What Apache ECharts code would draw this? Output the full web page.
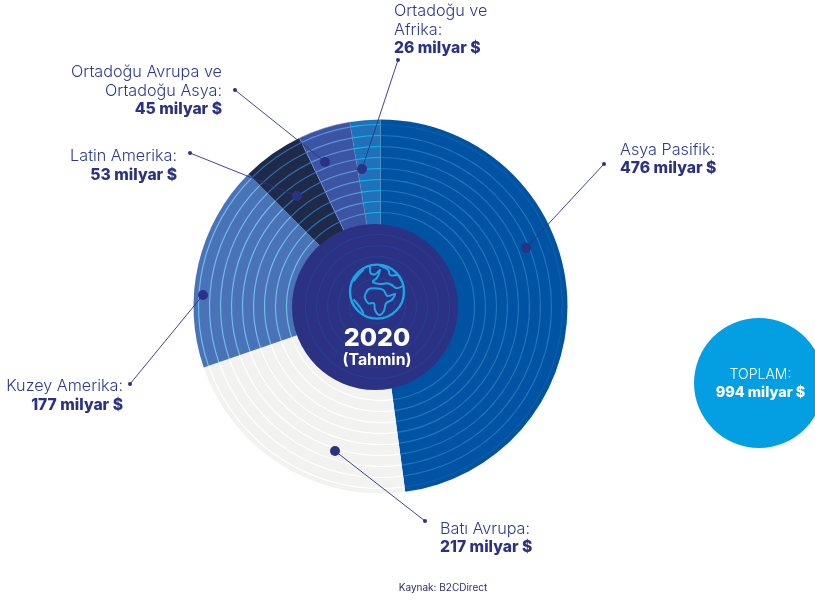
<!DOCTYPE html>
<html lang="tr">
<head>
<meta charset="utf-8">
<title>2020 bölgesel pazar büyüklüğü</title>
<style>html,body{margin:0;padding:0;background:#fff}#chart{width:815px;height:601px}</style>
<script src="https://cdn.jsdelivr.net/npm/echarts@6/dist/echarts.min.js"></script>
</head>
<body>
<div id="chart"></div>
<script>
// Regional values, clockwise from twelve o'clock (milyar $)
const regions = ['Asya Pasifik', 'Batı Avrupa', 'Kuzey Amerika', 'Latin Amerika', 'Ortadoğu Avrupa ve Ortadoğu Asya', 'Ortadoğu ve Afrika'];
const values = [476, 217, 177, 53, 45, 26];
const total = 994;
const year = '2020';
const yearNote = '(Tahmin)';
const source = 'Kaynak: B2CDirect';

const sliceColors = ['#0053a2', '#f2f2f0', '#4a72b7', '#1e2a48', '#3b55a4', '#1f72b9'];
const ringColors = ['#1a78bb', '#ffffff', '#6fbbe9', '#2f6cb2', '#5b93d1', '#16b5ec'];
const outerRingColors = ['#0a5fab', '#ffffff', '#6fbbe9', '#2f6cb2', '#5b93d1', '#16b5ec'];
const ringRadii = [182, 171, 160, 149, 138, 127, 116, 105, 94];
const coreRingRadii = [72, 61, 50, 39, 28, 17];

const NAVY = '#2b3284';
const INK = '#2b3a8e';
const CX = 380.5, CY = 306.5, R = 187;
const FONT = 'Inter, "Open Sans", sans-serif';

const sliceData = regions.map((name, i) => ({
  name, value: values[i],
  itemStyle: i === 4
    ? { color: sliceColors[i], borderColor: '#8f9fcb', borderWidth: 0.6 }
    : { color: sliceColors[i] }
}));
const ringDataFor = (palette) => regions.map((name, i) => ({
  name, value: values[i],
  itemStyle: { color: palette[i] }
}));

const pieBase = {
  type: 'pie', center: [CX, CY], startAngle: 90, silent: true,
  animation: false, label: { show: false }, labelLine: { show: false },
  emphasis: { disabled: true }
};
const series = [Object.assign({}, pieBase, { radius: [0, R], data: sliceData, z: 2 })];
ringRadii.forEach((r, k) => {
  series.push(Object.assign({}, pieBase, {
    radius: [r - 0.6, r + 0.6],
    data: ringDataFor(k === 0 ? outerRingColors : ringColors),
    z: 3
  }));
});

const graphic = [];
const add = (el) => { el.z = el.z || 20; el.silent = true; graphic.push(el); };

// Centre disc with its faint rings
add({ type: 'circle', shape: { cx: 375, cy: 307, r: 83 }, style: { fill: NAVY } });
coreRingRadii.forEach(r => add({
  type: 'circle', z: 21, shape: { cx: CX - 3, cy: CY, r },
  style: { fill: 'none', stroke: '#263f95', lineWidth: 1 }
}));

// Globe icon
const GLOBE = '#1ca6e6';
const gx = (x) => 280 + x / 3, gy = (y) => 220 + y / 3;
const globeStrokes = [
  [[255,225],[265,208],[285,205],[310,210],[322,228],[345,222],[335,240],[318,250],[312,272],[298,285],[285,270],[282,250],[265,250],[255,235],[255,225]],
  [[270,140],[272,160],[285,163],[300,150],[290,175],[278,185],[300,192],[320,190],[335,195],[350,205],[368,198]],
  [[300,137],[325,150],[330,165],[352,165]],
  [[250,150],[235,165],[222,182]],
  [[222,240],[240,262],[250,278]]
];
add({ type: 'circle', z: 22, shape: { cx: gx(291), cy: gy(215), r: 27 }, style: { fill: 'none', stroke: GLOBE, lineWidth: 2.4 } });
globeStrokes.forEach(pts => add({
  type: 'polyline', z: 22,
  shape: { points: pts.map(p => [gx(p[0]), gy(p[1])]), smooth: 0.3 },
  style: { fill: 'none', stroke: GLOBE, lineWidth: 2, lineJoin: 'round', lineCap: 'round' }
}));

const text = (t, x, y, size, weight, fill, align) => add({
  type: 'text', z: 30,
  style: { text: t, x, y, fontSize: size, fontWeight: weight, fontFamily: FONT, fill, align: align || 'left', verticalAlign: 'middle' }
});
text(year, 377, 338.5, 25, 800, '#ffffff', 'center');
text(yearNote, 377, 360, 15.8, 700, '#ffffff', 'center');

// Callouts: leader from the text to a dot on the slice
const callouts = [
  { i: 0, from: [604, 164], to: [526, 248], x: 620, a: 'left', lines: ['Asya Pasifik:'], y: 150 },
  { i: 1, from: [425, 521], to: [335, 451], x: 440, a: 'left', lines: ['Batı Avrupa:'], y: 529 },
  { i: 2, from: [130, 384], to: [203, 295], x: 123, a: 'right', lines: ['Kuzey Amerika:'], y: 386.5 },
  { i: 3, from: [190, 153], to: [297, 196], x: 177, a: 'right', lines: ['Latin Amerika:'], y: 156.5 },
  { i: 4, from: [235, 90], to: [325, 162], x: 222, a: 'right', lines: ['Ortadoğu Avrupa ve', 'Ortadoğu Asya:'], y: 72.5 },
  { i: 5, from: [398, 60], to: [362, 169], x: 394, a: 'left', lines: ['Ortadoğu ve', 'Afrika:'], y: 11 }
];
callouts.forEach(c => {
  add({ type: 'line', z: 25, shape: { x1: c.from[0], y1: c.from[1], x2: c.to[0], y2: c.to[1] }, style: { stroke: NAVY, lineWidth: 1, opacity: 0.9 } });
  add({ type: 'circle', z: 26, shape: { cx: c.from[0], cy: c.from[1], r: 2 }, style: { fill: NAVY } });
  add({ type: 'circle', z: 26, shape: { cx: c.to[0], cy: c.to[1], r: 5 }, style: { fill: NAVY } });
  c.lines.forEach((l, k) => text(l, c.x, c.y + k * 18.8, 16.2, 300, INK, c.a));
  text(values[c.i] + ' milyar $', c.x, c.y + c.lines.length * 18.6, 15.7, 800, NAVY, c.a);
});

// Total bubble
add({ type: 'circle', z: 10, shape: { cx: 759, cy: 383, r: 65 }, style: { fill: '#049fe3' } });
text('TOPLAM:', 760.5, 375, 14, 300, '#ffffff', 'center');
text(total + ' milyar $', 760.5, 392.5, 14.4, 800, '#ffffff', 'center');

text(source, 443, 588, 10, 400, '#2d2f6b', 'center');

const chart = echarts.init(document.getElementById('chart'), null, { renderer: 'canvas' });
chart.setOption({ animation: false, backgroundColor: '#ffffff', series, graphic: { elements: graphic } });
</script>
</body>
</html>
